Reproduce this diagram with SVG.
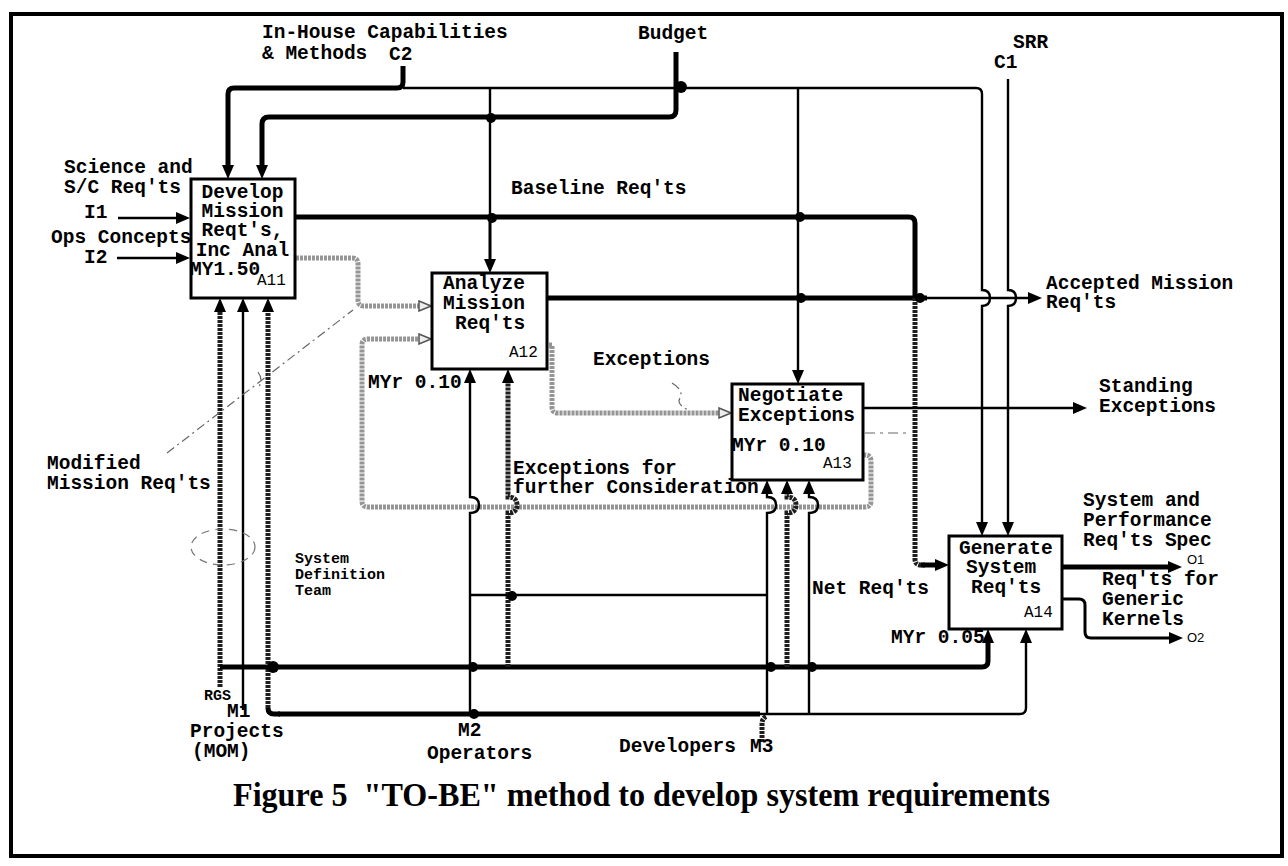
<svg xmlns="http://www.w3.org/2000/svg" width="1288" height="866" viewBox="0 0 1288 866">
<defs>
<style>
.t{font-family:"Liberation Mono","Courier New",monospace;font-weight:bold;font-size:19.5px;fill:#000}
.s{font-size:15px}
.id{font-weight:normal;font-size:16px}
.o{font-family:"Liberation Sans",Arial,sans-serif;font-weight:normal;font-size:13px}
.box{fill:#fff;stroke:#000;stroke-width:3}
.k{fill:none;stroke:#000;stroke-width:5}
.n{fill:none;stroke:#000;stroke-width:2.4}
.m{fill:none;stroke:#000;stroke-width:3}
.dg{fill:none;stroke:#1e1e1e;stroke-width:5;stroke-dasharray:3 1}
.lg{fill:none;stroke:#959595;stroke-width:5;stroke-dasharray:3 1}
.dash{fill:none;stroke:#666;stroke-width:1.2;stroke-dasharray:9 4 2 4}
.dot{fill:#000}
.title{font-family:"Liberation Serif","Times New Roman",serif;font-weight:bold;font-size:34px;fill:#000}
</style>
<marker id="ah" viewBox="0 0 14 12" refX="2" refY="6" markerWidth="14" markerHeight="12" markerUnits="userSpaceOnUse" orient="auto">
<path d="M0,0 L14,6 L0,12 z" fill="#000"/>
</marker>
<marker id="ahg" viewBox="0 0 14 12" refX="2" refY="6" markerWidth="14" markerHeight="12" markerUnits="userSpaceOnUse" orient="auto">
<path d="M1,1 L13,6 L1,11 z" fill="#eee" stroke="#555" stroke-width="1.5"/>
</marker>
</defs>
<rect width="1288" height="866" fill="#fff"/>
<rect x="11" y="14" width="1271" height="842" fill="none" stroke="#000" stroke-width="4"/>

<g id="connectors">
<!-- C2 -->
<path class="k" d="M403,66 L403,82 Q403,88 397,88 L234,88 Q228,88 228,94 L228,167" marker-end="url(#ah)"/>
<path class="n" d="M403,88 L976,88 Q982,88 982,94 L982,290 Q990,290 990,298 Q990,306 982,306 L982,524" marker-end="url(#ah)"/>
<path class="n" d="M490,88 L490,217"/>
<path class="m" d="M490,217 L490,261" marker-end="url(#ah)"/>
<path class="n" d="M798,88 L798,372" marker-end="url(#ah)"/>
<!-- Budget -->
<path class="k" d="M676,52 L676,110 Q676,117 669,117 L269,117 Q262,117 262,124 L262,167" marker-end="url(#ah)"/>
<!-- SRR C1 -->
<path class="n" d="M1008,79 L1008,290 Q1016,290 1016,298 Q1016,306 1008,306 L1008,524" marker-end="url(#ah)"/>
<!-- Inputs -->
<path class="n" d="M118,218 L178,218" marker-end="url(#ah)"/>
<path class="n" d="M117,258 L178,258" marker-end="url(#ah)"/>
<!-- Baseline Req'ts -->
<path class="k" d="M296,217 L909,217 Q915,217 915,223 L915,298"/>
<!-- A12 output -->
<path class="k" d="M547,298 L927,298"/>
<path class="n" d="M927,298 L1030,298" marker-end="url(#ah)"/>
<path class="dg" d="M915,298 L915,559 Q915,565 921,565 L925,565"/>
<path class="k" d="M921,565 L937,565" marker-end="url(#ah)"/>
<!-- Standing exceptions -->
<path class="n" d="M863,408 L1075,408" marker-end="url(#ah)"/>
<path fill="none" stroke="#999" stroke-width="1.5" stroke-dasharray="10 5 3 5" d="M865,433 L909,433"/>
<!-- A14 outputs -->
<path class="k" d="M1062,567 L1170,567" marker-end="url(#ah)"/>
<path class="m" d="M1062,599 L1079,599 Q1085,599 1085,605 L1085,632 Q1085,638 1091,638 L1171,638" marker-end="url(#ah)"/>
<!-- grey flows -->
<path class="lg" d="M296,258 L352,258 Q358,258 358,264 L358,300 Q358,306 364,306 L420,306" marker-end="url(#ahg)"/>
<path class="lg" d="M549,345 L552,345 L552,407 Q552,413 558,413 L720,413" marker-end="url(#ahg)"/>
<path class="lg" d="M863,455 L865,455 Q871,455 871,461 L871,501 Q871,507 865,507 L368,507 Q362,507 362,501 L362,345 Q362,339 368,339 L420,339" marker-end="url(#ahg)"/>
<!-- A11 mechanisms -->
<path class="dg" d="M220,687 L220,312"/>
<path class="k" d="M220,312 L220,310" marker-end="url(#ah)"/>
<path class="n" d="M243,710 L243,310" marker-end="url(#ah)"/>
<path class="k" d="M280,714 L274,714 Q268,714 268,708"/>
<path class="dg" d="M268,708 L268,312"/>
<path class="k" d="M268,312 L268,310" marker-end="url(#ah)"/>
<!-- Projects line y=667 -->
<path class="k" d="M220,667 L982,667 Q988,667 988,661 L988,641" marker-end="url(#ah)"/>
<!-- bottom line y=714 -->
<path class="k" d="M278,714 L760,714"/>
<path class="n" d="M760,714 L1020,714 Q1026,714 1026,708 L1026,641" marker-end="url(#ah)"/>
<!-- A12 mechanisms -->
<path class="n" d="M470,714 L470,513 Q479,513 479,505 Q479,497 470,497 L470,381" marker-end="url(#ah)"/>
<path class="dg" d="M508,667 L508,513 Q517,513 517,505 Q517,497 508,497 L508,383"/>
<path class="k" d="M508,383 L508,381" marker-end="url(#ah)"/>
<path class="n" d="M470,595 L767,595"/>
<!-- A13 mechanisms -->
<path class="n" d="M767,714 L767,513 Q776,513 776,505 Q776,497 767,497 L767,492" marker-end="url(#ah)"/>
<path class="dg" d="M787,667 L787,513 Q796,513 796,505 Q796,497 787,497 L787,494"/>
<path class="k" d="M787,494 L787,492" marker-end="url(#ah)"/>
<path class="n" d="M809,714 L809,513 Q818,513 818,505 Q818,497 809,497 L809,492" marker-end="url(#ah)"/>
<!-- M3 -->
<path class="dg" d="M762,742 L762,724 Q762,718 767,716"/>
<!-- junction dots -->
<circle class="dot" cx="681" cy="87" r="6"/>
<circle class="dot" cx="491" cy="118" r="5"/>
<circle class="dot" cx="492" cy="218" r="5"/>
<circle class="dot" cx="800" cy="217" r="5"/>
<circle class="dot" cx="801" cy="298" r="5"/>
<circle class="dot" cx="920" cy="298" r="5"/>
<circle class="dot" cx="273" cy="667" r="6"/>
<circle class="dot" cx="473" cy="667" r="5"/>
<circle class="dot" cx="474" cy="714" r="5"/>
<circle class="dot" cx="512" cy="596" r="5"/>
<circle class="dot" cx="771" cy="667" r="5"/>
<circle class="dot" cx="812" cy="667" r="5"/>
<!-- annotation marks -->
<path class="dash" d="M167,453 L353,310"/>
<path class="dash" d="M258,372 Q264,380 258,388"/>
<ellipse cx="223" cy="547" rx="32" ry="18" fill="none" stroke="#777" stroke-width="1.2" stroke-dasharray="8 6"/>
<path class="dash" d="M672,383 Q684,390 680,398 Q676,404 688,410"/>
</g>

<g id="A11">
<rect class="box" x="191" y="179" width="104" height="119"/>
<text class="t" text-anchor="middle"><tspan x="242.5" y="198">Develop</tspan><tspan x="242.5" y="217">Mission</tspan><tspan x="242.5" y="236">Reqt's,</tspan><tspan x="242.5" y="256">Inc Anal</tspan></text>
<text class="t" x="190" y="275">MY1.50</text>
<text class="t id" x="257" y="285">A11</text>
</g>
<g id="A12">
<rect class="box" x="432" y="273" width="115" height="96"/>
<text class="t"><tspan x="443" y="289">Analyze</tspan><tspan x="443" y="309">Mission</tspan><tspan x="455" y="329">Req'ts</tspan></text>
<text class="t id" x="509" y="357">A12</text>
</g>
<g id="A13">
<rect class="box" x="732" y="384" width="131" height="96"/>
<text class="t"><tspan x="738" y="401">Negotiate</tspan><tspan x="738" y="421">Exceptions</tspan></text>
<text class="t" x="732" y="451">MYr 0.10</text>
<text class="t id" x="823" y="468">A13</text>
</g>
<g id="A14">
<rect class="box" x="949" y="536" width="113" height="93"/>
<text class="t"><tspan x="959" y="554">Generate</tspan><tspan x="966" y="573">System</tspan><tspan x="971" y="593">Req'ts</tspan></text>
<text class="t id" x="1024" y="617">A14</text>
</g>

<g id="labels">
<text class="t"><tspan x="262" y="38">In-House Capabilities</tspan><tspan x="262" y="59">&amp; Methods</tspan></text>
<text class="t" x="389" y="60" font-size="18">C2</text>
<text class="t" x="638" y="39">Budget</text>
<text class="t"><tspan x="1013" y="48">SRR</tspan><tspan x="994" y="68">C1</tspan></text>
<text class="t"><tspan x="64" y="173">Science and</tspan><tspan x="64" y="193">S/C Req'ts</tspan></text>
<text class="t" x="84" y="218">I1</text>
<text class="t"><tspan x="51" y="243">Ops Concepts</tspan><tspan x="84" y="263">I2</tspan></text>
<text class="t" x="511" y="194">Baseline Req'ts</text>
<text class="t"><tspan x="1046" y="289">Accepted Mission</tspan><tspan x="1046" y="308">Req'ts</tspan></text>
<text class="t" x="593" y="365">Exceptions</text>
<text class="t"><tspan x="1099" y="392">Standing</tspan><tspan x="1099" y="412">Exceptions</tspan></text>
<text class="t" x="368" y="388">MYr 0.10</text>
<text class="t"><tspan x="47" y="469">Modified</tspan><tspan x="47" y="489">Mission Req'ts</tspan></text>
<text class="t"><tspan x="513" y="474">Exceptions for</tspan><tspan x="513" y="493">further Consideration</tspan></text>
<text class="t"><tspan x="1083" y="506">System and</tspan><tspan x="1083" y="526">Performance</tspan><tspan x="1083" y="546">Req'ts Spec</tspan></text>
<text class="o" x="1187" y="564">O1</text>
<text class="t"><tspan x="1102" y="585">Req'ts for</tspan><tspan x="1102" y="605">Generic</tspan><tspan x="1102" y="625">Kernels</tspan></text>
<text class="o" x="1187" y="642">O2</text>
<text class="t" x="812" y="594">Net Req'ts</text>
<text class="t" x="891" y="643">MYr 0.05</text>
<text class="t s"><tspan x="295" y="563">System</tspan><tspan x="295" y="579">Definition</tspan><tspan x="295" y="595">Team</tspan></text>
<text class="t s" x="204" y="700">RGS</text>
<text class="t"><tspan x="227" y="717">M1</tspan><tspan x="190" y="737">Projects</tspan><tspan x="192" y="757">(MOM)</tspan></text>
<text class="t"><tspan x="458" y="736">M2</tspan><tspan x="427" y="759">Operators</tspan></text>
<text class="t" x="619" y="752">Developers</text>
<text class="t" x="750" y="752">M3</text>
<text class="title" x="233" y="806" textLength="817" lengthAdjust="spacingAndGlyphs" xml:space="preserve">Figure 5  "TO-BE" method to develop system requirements</text>
</g>
</svg>
